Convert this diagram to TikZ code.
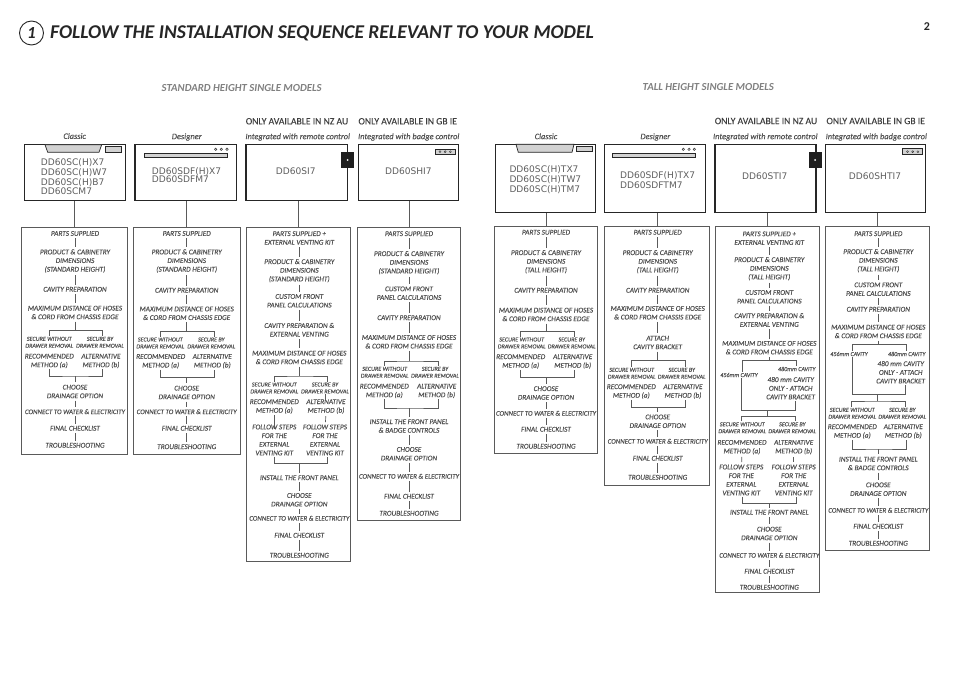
\documentclass[tikz,border=0pt]{standalone}
\usepackage{fontspec}
\usepackage{xcolor}
\setmainfont{Carlito}
\newfontfamily\modelfont{DejaVu Sans}
\newfontfamily\stepfont[UprightFont=*-Italic, FakeBold=0.25]{Carlito}
\newfontfamily\onlyfont[FakeBold=0.15]{Carlito}
\usetikzlibrary{calc}
\definecolor{textgray}{HTML}{525252}
\definecolor{linegray}{HTML}{5A5A5A}
\definecolor{headgray}{HTML}{808080}
\definecolor{modelgray}{HTML}{5E5E5E}
\definecolor{fillgray}{HTML}{D2D2D2}

\begin{document}
\begin{tikzpicture}[
  x=1bp, y=-1bp,
  stepnode/.style={font=\fontsize{7.3}{8.7}\selectfont\stepfont, text=textgray,
                   align=center, inner sep=1bp},
  widestep/.style={font=\fontsize{6.95}{8.7}\selectfont\stepfont, text=textgray,
                   align=center, inner sep=1bp},
  smallstep/.style={font=\fontsize{6.1}{7}\selectfont\stepfont, text=textgray,
                    align=center, inner sep=.8bp},
  link/.style={draw=linegray, line width=.7bp},
  stub/.style={link, shorten <=1.2bp, shorten >=1.2bp},
  panel/.style 2 args={draw=linegray, line width=.8bp, inner sep=0pt,
                       minimum width=#1bp, minimum height=#2bp},
  modelbox/.style 2 args={draw=black!85, line width=.9bp, inner sep=0pt,
                          minimum width=#1bp, minimum height=#2bp},
  modeltext/.style={font=\fontsize{9.1}{9.7}\selectfont\modelfont, text=modelgray,
                    align=left, inner sep=0pt},
  kindlabel/.style={font=\fontsize{8.4}{9}\selectfont\stepfont, text=textgray, inner sep=0pt},
  onlylabel/.style={font=\fontsize{9.7}{10}\selectfont\onlyfont, text=black!75, inner sep=0pt},
  grouplabel/.style={font=\fontsize{10.8}{12}\selectfont\bfseries\itshape, text=headgray, inner sep=0pt},
  heavyedge/.style={draw=black!85, line width=1.6bp},
  greypart/.style={draw=black!85, fill=fillgray, line width=.7bp},
  controlblock/.style={fill=black!88, inner sep=0pt, minimum width=13bp, minimum height=16bp},
  tofork/.style={shorten >=0pt},
  fromfork/.style={shorten <=0pt}
]
\useasboundingbox (0,0) rectangle (954,675);

% ---- HEADER ----
\node[draw=black!85, circle, line width=.9bp, minimum size=24bp, inner sep=0pt,
      font=\fontsize{17}{17}\selectfont\bfseries\itshape, text=black!85] (numring) at (31.5,33) {1};
\node[anchor=west, inner sep=0pt, font=\fontsize{19.6}{24}\selectfont\bfseries\itshape, text=black!85]
  (title) at (50,33) {FOLLOW THE INSTALLATION SEQUENCE RELEVANT TO YOUR MODEL};
\node[font=\fontsize{12}{12}\selectfont\bfseries, text=black!85, inner sep=0pt] (pageno) at (927,27) {2};

\node[grouplabel] (stdhead) at (241.7,88.3) {STANDARD HEIGHT SINGLE MODELS};
\node[grouplabel] (tallhead) at (708.3,87.3) {TALL HEIGHT SINGLE MODELS};

\node[onlylabel] (only3) at (297,121.3) {ONLY AVAILABLE IN NZ AU};
\node[onlylabel] (only4) at (407.7,121.3) {ONLY AVAILABLE IN GB IE};
\node[onlylabel] (only7) at (766,121) {ONLY AVAILABLE IN NZ AU};
\node[onlylabel] (only8) at (875.7,121) {ONLY AVAILABLE IN GB IE};

\node[kindlabel] (kind1) at (74.7,136) {Classic};
\node[kindlabel] (kind2) at (186.7,137) {Designer};
\node[kindlabel] (kind3) at (297.7,137) {Integrated with remote control};
\node[kindlabel] (kind4) at (408.7,137) {Integrated with badge control};
\node[kindlabel] (kind5) at (546,136.3) {Classic};
\node[kindlabel] (kind6) at (655.3,137) {Designer};
\node[kindlabel] (kind7) at (765.3,137) {Integrated with remote control};
\node[kindlabel] (kind8) at (876.3,137) {Integrated with badge control};

% ==== MODEL BOXES ====
\node[modelbox={100.7}{55.6}] (box1) at (74.65,172.5) {};
\node[modelbox={101}{55.6}] (box2) at (186.2,172.5) {};
\node[modelbox={101}{55.6}] (box3) at (297.2,172.5) {};
\node[modelbox={100.4}{55.6}] (box4) at (408.5,172.5) {};
\node[modelbox={100.4}{68.4}] (box5) at (545.5,178.5) {};
\node[modelbox={100.7}{68.4}] (box6) at (654.65,178.5) {};
\node[modelbox={100.7}{68.4}] (box7) at (765.35,178.5) {};
\node[modelbox={100.4}{68.4}] (box8) at (875.5,178.5) {};

\draw[heavyedge] (box2.south west) -- (box2.north west);
\draw[heavyedge] (box3.south west) -- (box3.north west);
\draw[heavyedge] (box7.south west) -- (box7.north west);
\draw[heavyedge] (box7.south east) -- (box7.north east);

% classic fascias
\draw[greypart] (45,144.7) -- (101.7,144.7) -- (99,152.3) -- (47.7,152.3) -- cycle;
\draw[greypart] (105.3,146.7) rectangle (121.7,152);
\draw[greypart] (516,144.3) -- (574,144.3) -- (572,152.3) -- (518.3,152.3) -- cycle;
\draw[greypart] (576.3,146.3) rectangle (592.7,151.7);

% designer bars and dots
\draw[greypart] (144.3,153.3) rectangle (227.7,157.7);
\draw[greypart] (612.3,153.3) rectangle (695.7,157.7);
\foreach \dotx in {215.7,221.3,227,683.3,689,694.3}
  \draw[draw=black!80, line width=.5bp] (\dotx,149.3) circle (1.2bp);

% remote control blocks
\node[controlblock] (remote3) at (347.5,160) {};
\node[controlblock] (remote7) at (815,160) {};
\fill[white] (remote3.center) circle (1bp);
\fill[white] (remote7.center) circle (1bp);

% badge controls
\draw[greypart] (435.3,149) rectangle (455,154.3);
\draw[greypart] (902.7,148.7) rectangle (922.7,154.7);
\foreach \dotx in {440,445.2,450.4}
  \draw[draw=black!80, line width=.4bp] (\dotx,151.7) circle (1bp);
\foreach \dotx in {907.5,912.7,917.9}
  \draw[draw=black!80, line width=.4bp] (\dotx,151.7) circle (1bp);

\node[modeltext, anchor=west] (name1) at (40.7,177) {DD60SC(H)X7\\DD60SC(H)W7\\DD60SC(H)B7\\DD60SCM7};
\node[modeltext, anchor=west] (name2) at (151.7,175) {DD60SDF(H)X7\\[-1bp]DD60SDFM7};
\node[modeltext] (name3) at (295.7,171.7) {DD60SI7};
\node[modeltext] (name4) at (408.3,171.7) {DD60SHI7};
\node[modeltext, anchor=west] (name5) at (509.3,179.5) {DD60SC(H)TX7\\DD60SC(H)TW7\\DD60SC(H)TM7};
\node[modeltext, anchor=west] (name6) at (620,180.3) {DD60SDF(H)TX7\\DD60SDFTM7};
\node[modeltext] (name7) at (764.7,176.7) {DD60STI7};
\node[modeltext] (name8) at (875,176.7) {DD60SHTI7};

% ==== PANELS ====
\node[panel={106.2}{227}] (panel1) at (74.6,340.5) {};
\node[panel={106.7}{227.3}] (panel2) at (186.65,340.65) {};
\node[panel={103.6}{333.7}] (panel3) at (298.5,394.15) {};
\node[panel={103.4}{292.7}] (panel4) at (409,373.65) {};
\node[panel={103.4}{227.3}] (panel5) at (546,339.65) {};
\node[panel={105.4}{259.7}] (panel6) at (657,355.85) {};
\node[panel={104}{366.7}] (panel7) at (767.7,409.35) {};
\node[panel={104.4}{324.3}] (panel8) at (877.5,388.15) {};

\foreach \n in {1,...,8}
  \draw[link] (panel\n.north |- box\n.south) -- (panel\n.north);

% ---- Column 1 ----
\node[stepnode] (parts1) at (75,233.5) {PARTS SUPPLIED};
\node[stepnode] (dims1) at (75,261) {PRODUCT \& CABINETRY\\DIMENSIONS\\(STANDARD HEIGHT)};
\node[stepnode] (cavity1) at (75,289.3) {CAVITY PREPARATION};
\node[stepnode] (hoses1) at (75,312.5) {MAXIMUM DISTANCE OF HOSES\\\& CORD FROM CHASSIS EDGE};
\node[smallstep] (secA1) at (49.3,342.3) {SECURE WITHOUT\\DRAWER REMOVAL};
\node[smallstep] (secB1) at (100,342.3) {SECURE BY\\DRAWER REMOVAL};
\node[stepnode] (recA1) at (49.3,361) {RECOMMENDED\\METHOD (a)};
\node[stepnode] (recB1) at (101,361) {ALTERNATIVE\\METHOD (b)};
\node[stepnode] (drain1) at (75,391.5) {CHOOSE\\DRAINAGE OPTION};
\node[widestep] (water1) at (75,411.7) {CONNECT TO WATER \& ELECTRICITY};
\node[stepnode] (check1) at (75,428.3) {FINAL CHECKLIST};
\node[stepnode] (trouble1) at (75,445.3) {TROUBLESHOOTING};
\coordinate (forkA1) at (75,330.3);
\coordinate (forkB1) at (75,376);
\draw[stub] (parts1) edge (dims1) (dims1) edge (cavity1) (cavity1) edge (hoses1) (hoses1) edge[tofork] (forkA1);
\draw[link] (secA1.north) |- (forkA1) -| ([xshift=2.7bp]secB1.north);
\draw[link] (recA1.south) |- (forkB1) -| ([xshift=1.7bp]recB1.south);
\draw[stub] (forkB1) edge[fromfork] (drain1) (drain1) edge (water1) (water1) edge (check1) (check1) edge (trouble1);

% ---- Column 2 ----
\node[stepnode] (parts2) at (186.7,233.5) {PARTS SUPPLIED};
\node[stepnode] (dims2) at (186.7,261) {PRODUCT \& CABINETRY\\DIMENSIONS\\(STANDARD HEIGHT)};
\node[stepnode] (cavity2) at (186.7,290.3) {CAVITY PREPARATION};
\node[stepnode] (hoses2) at (186.7,313.3) {MAXIMUM DISTANCE OF HOSES\\\& CORD FROM CHASSIS EDGE};
\node[smallstep] (secA2) at (160.3,343) {SECURE WITHOUT\\DRAWER REMOVAL};
\node[smallstep] (secB2) at (211.3,343) {SECURE BY\\DRAWER REMOVAL};
\node[stepnode] (recA2) at (160.7,361.3) {RECOMMENDED\\METHOD (a)};
\node[stepnode] (recB2) at (212.3,361.3) {ALTERNATIVE\\METHOD (b)};
\node[stepnode] (drain2) at (186.7,392.5) {CHOOSE\\DRAINAGE OPTION};
\node[widestep] (water2) at (186.7,411.7) {CONNECT TO WATER \& ELECTRICITY};
\node[stepnode] (check2) at (186.7,428.3) {FINAL CHECKLIST};
\node[stepnode] (trouble2) at (186.7,446.7) {TROUBLESHOOTING};
\coordinate (forkA2) at (186.7,331.3);
\coordinate (forkB2) at (186.7,377.3);
\draw[stub] (parts2) edge (dims2) (dims2) edge (cavity2) (cavity2) edge (hoses2) (hoses2) edge[tofork] (forkA2);
\draw[link] (secA2.north) |- (forkA2) -| ([xshift=3bp]secB2.north);
\draw[link] (recA2.south) |- (forkB2) -| ([xshift=2bp]recB2.south);
\draw[stub] (forkB2) edge[fromfork] (drain2) (drain2) edge (water2) (water2) edge (check2) (check2) edge (trouble2);

% ---- Column 3 ----
\node[stepnode] (parts3) at (299.3,238) {PARTS SUPPLIED +\\EXTERNAL VENTING KIT};
\node[stepnode] (dims3) at (299.3,270.7) {PRODUCT \& CABINETRY\\DIMENSIONS\\(STANDARD HEIGHT)};
\node[stepnode] (custom3) at (299.3,300.8) {CUSTOM FRONT\\PANEL CALCULATIONS};
\node[stepnode] (cavity3) at (299.3,329.8) {CAVITY PREPARATION \&\\EXTERNAL VENTING};
\node[stepnode] (hoses3) at (299.3,357.5) {MAXIMUM DISTANCE OF HOSES\\\& CORD FROM CHASSIS EDGE};
\node[smallstep] (secA3) at (274.3,388) {SECURE WITHOUT\\DRAWER REMOVAL};
\node[smallstep] (secB3) at (325,388) {SECURE BY\\DRAWER REMOVAL};
\node[stepnode] (recA3) at (274.3,406.5) {RECOMMENDED\\METHOD (a)};
\node[stepnode] (recB3) at (326,406.5) {ALTERNATIVE\\METHOD (b)};
\node[stepnode] (folA3) at (274.3,440) {FOLLOW STEPS\\FOR THE\\EXTERNAL\\VENTING KIT};
\node[stepnode] (folB3) at (325,440) {FOLLOW STEPS\\FOR THE\\EXTERNAL\\VENTING KIT};
\node[stepnode] (front3) at (299.3,477.7) {INSTALL THE FRONT PANEL};
\node[stepnode] (drain3) at (299.3,499.8) {CHOOSE\\DRAINAGE OPTION};
\node[widestep] (water3) at (299.3,518.3) {CONNECT TO WATER \& ELECTRICITY};
\node[stepnode] (check3) at (299.3,535.3) {FINAL CHECKLIST};
\node[stepnode] (trouble3) at (299.3,555.3) {TROUBLESHOOTING};
\coordinate (forkA3) at (299.3,376);
\coordinate (forkB3) at (299.3,463.7);
\draw[stub] (parts3) edge (dims3) (dims3) edge (custom3) (custom3) edge (cavity3) (cavity3) edge (hoses3) (hoses3) edge[tofork] (forkA3);
\draw[link] (secA3.north) |- (forkA3) -| ([xshift=2.7bp]secB3.north);
\draw[link] ([xshift=.7bp]secB3.south) -- ([xshift=.7bp,yshift=-3bp]secB3.south |- recB3.north);
\draw[link] (recA3.south) -- ([yshift=-6bp]recA3.south |- folA3.north);
\draw[stub] (recB3) -- (folB3);
\draw[link] (folA3.south) |- (forkB3) -| ([xshift=2.7bp]folB3.south);
\draw[stub] (forkB3) edge[fromfork] (front3) (front3) edge (drain3) (drain3) edge (water3) (water3) edge (check3) (check3) edge (trouble3);

% ---- Column 4 ----
\node[stepnode] (parts4) at (409,233.7) {PARTS SUPPLIED};
\node[stepnode] (dims4) at (409,262.7) {PRODUCT \& CABINETRY\\DIMENSIONS\\(STANDARD HEIGHT)};
\node[stepnode] (custom4) at (409,293.2) {CUSTOM FRONT\\PANEL CALCULATIONS};
\node[stepnode] (cavity4) at (409,317.7) {CAVITY PREPARATION};
\node[stepnode] (hoses4) at (409,341.8) {MAXIMUM DISTANCE OF HOSES\\\& CORD FROM CHASSIS EDGE};
\node[smallstep] (secA4) at (384.7,372.3) {SECURE WITHOUT\\DRAWER REMOVAL};
\node[smallstep] (secB4) at (435,372.3) {SECURE BY\\DRAWER REMOVAL};
\node[stepnode] (recA4) at (384.3,391) {RECOMMENDED\\METHOD (a)};
\node[stepnode] (recB4) at (436.7,391) {ALTERNATIVE\\METHOD (b)};
\node[stepnode] (front4) at (409,426) {INSTALL THE FRONT PANEL\\\& BADGE CONTROLS};
\node[stepnode] (drain4) at (409,453.8) {CHOOSE\\DRAINAGE OPTION};
\node[widestep] (water4) at (409,476.3) {CONNECT TO WATER \& ELECTRICITY};
\node[stepnode] (check4) at (409,496.3) {FINAL CHECKLIST};
\node[stepnode] (trouble4) at (409,513.3) {TROUBLESHOOTING};
\coordinate (forkA4) at (409,361);
\coordinate (forkB4) at (409,408);
\draw[stub] (parts4) edge (dims4) (dims4) edge (custom4) (custom4) edge (cavity4) (cavity4) edge (hoses4) (hoses4) edge[tofork] (forkA4);
\draw[link] (secA4.north) |- (forkA4) -| ([xshift=3.7bp]secB4.north);
\draw[link] (recA4.south) |- (forkB4) -| ([xshift=2bp]recB4.south);
\draw[stub] (forkB4) edge[fromfork] (front4) (front4) edge (drain4) (drain4) edge (water4) (water4) edge (check4) (check4) edge (trouble4);

% ---- Column 5 ----
\node[stepnode] (parts5) at (546,232.3) {PARTS SUPPLIED};
\node[stepnode] (dims5) at (546,261.7) {PRODUCT \& CABINETRY\\DIMENSIONS\\(TALL HEIGHT)};
\node[stepnode] (cavity5) at (546,290.3) {CAVITY PREPARATION};
\node[stepnode] (hoses5) at (546,314.5) {MAXIMUM DISTANCE OF HOSES\\\& CORD FROM CHASSIS EDGE};
\node[smallstep] (secA5) at (521.7,343) {SECURE WITHOUT\\DRAWER REMOVAL};
\node[smallstep] (secB5) at (571.7,343) {SECURE BY\\DRAWER REMOVAL};
\node[stepnode] (recA5) at (520.7,361.5) {RECOMMENDED\\METHOD (a)};
\node[stepnode] (recB5) at (572.7,361.5) {ALTERNATIVE\\METHOD (b)};
\node[stepnode] (drain5) at (546,393) {CHOOSE\\DRAINAGE OPTION};
\node[widestep] (water5) at (546,413.3) {CONNECT TO WATER \& ELECTRICITY};
\node[stepnode] (check5) at (546,429.3) {FINAL CHECKLIST};
\node[stepnode] (trouble5) at (546,446.3) {TROUBLESHOOTING};
\coordinate (forkA5) at (546,331.3);
\coordinate (forkB5) at (546,377.3);
\draw[stub] (parts5) edge (dims5) (dims5) edge (cavity5) (cavity5) edge (hoses5) (hoses5) edge[tofork] (forkA5);
\draw[link] ([xshift=-1.4bp]secA5.north) |- (forkA5) -| ([xshift=3bp]secB5.north);
\draw[link] (recA5.south) |- (forkB5) -| ([xshift=2bp]recB5.south);
\draw[stub] (forkB5) edge[fromfork] (drain5) (drain5) edge (water5) (water5) edge (check5) (check5) edge (trouble5);

% ---- Column 6 ----
\node[stepnode] (parts6) at (657.7,232.3) {PARTS SUPPLIED};
\node[stepnode] (dims6) at (657.7,261.7) {PRODUCT \& CABINETRY\\DIMENSIONS\\(TALL HEIGHT)};
\node[stepnode] (cavity6) at (657.7,290.3) {CAVITY PREPARATION};
\node[stepnode] (hoses6) at (657.7,312.8) {MAXIMUM DISTANCE OF HOSES\\\& CORD FROM CHASSIS EDGE};
\node[stepnode] (attach6) at (657.7,342.5) {ATTACH\\CAVITY BRACKET};
\node[smallstep] (secA6) at (631.7,373.3) {SECURE WITHOUT\\DRAWER REMOVAL};
\node[smallstep] (secB6) at (681.7,373.3) {SECURE BY\\DRAWER REMOVAL};
\node[stepnode] (recA6) at (631.3,391.5) {RECOMMENDED\\METHOD (a)};
\node[stepnode] (recB6) at (683,391.5) {ALTERNATIVE\\METHOD (b)};
\node[stepnode] (drain6) at (657.7,421.3) {CHOOSE\\DRAINAGE OPTION};
\node[widestep] (water6) at (657.7,441.3) {CONNECT TO WATER \& ELECTRICITY};
\node[stepnode] (check6) at (657.7,458.3) {FINAL CHECKLIST};
\node[stepnode] (trouble6) at (657.7,477.3) {TROUBLESHOOTING};
\coordinate (forkA6) at (657.7,360.7);
\coordinate (forkB6) at (657.7,407.3);
\draw[stub] (parts6) edge (dims6) (dims6) edge (cavity6) (cavity6) edge (hoses6) (hoses6) edge (attach6) (attach6) edge[tofork] (forkA6);
\draw[link] (secA6.north) |- (forkA6) -| ([xshift=3.7bp]secB6.north);
\draw[link] (recA6.south) |- (forkB6) -| ([xshift=2.3bp]recB6.south);
\draw[stub] (forkB6) edge[fromfork] (drain6) (drain6) edge (water6) (water6) edge (check6) (check6) edge (trouble6);

% ---- Column 7 ----
\node[stepnode] (parts7) at (769.3,238.2) {PARTS SUPPLIED +\\EXTERNAL VENTING KIT};
\node[stepnode] (dims7) at (769.3,268.7) {PRODUCT \& CABINETRY\\DIMENSIONS\\(TALL HEIGHT)};
\node[stepnode] (custom7) at (769.3,296.8) {CUSTOM FRONT\\PANEL CALCULATIONS};
\node[stepnode] (cavity7) at (769.3,320) {CAVITY PREPARATION \&\\EXTERNAL VENTING};
\node[stepnode] (hoses7) at (769.3,347.7) {MAXIMUM DISTANCE OF HOSES\\\& CORD FROM CHASSIS EDGE};
\node[smallstep] (cavA7) at (739,375) {456mm CAVITY};
\node[smallstep] (cavB7) at (796.7,369) {480mm CAVITY};
\node[stepnode] (attach7) at (790.7,388.2) {480 mm CAVITY\\ONLY - ATTACH\\CAVITY BRACKET};
\node[smallstep] (secA7) at (742.3,427.8) {SECURE WITHOUT\\DRAWER REMOVAL};
\node[smallstep] (secB7) at (792.3,427.8) {SECURE BY\\DRAWER REMOVAL};
\node[stepnode] (recA7) at (742,447.2) {RECOMMENDED\\METHOD (a)};
\node[stepnode] (recB7) at (793.7,447.2) {ALTERNATIVE\\METHOD (b)};
\node[stepnode] (folA7) at (741.3,480) {FOLLOW STEPS\\FOR THE\\EXTERNAL\\VENTING KIT};
\node[stepnode] (folB7) at (793.7,480) {FOLLOW STEPS\\FOR THE\\EXTERNAL\\VENTING KIT};
\node[stepnode] (front7) at (769.3,512.3) {INSTALL THE FRONT PANEL};
\node[stepnode] (drain7) at (769.3,533.5) {CHOOSE\\DRAINAGE OPTION};
\node[widestep] (water7) at (769.3,555.3) {CONNECT TO WATER \& ELECTRICITY};
\node[stepnode] (check7) at (769.3,571.3) {FINAL CHECKLIST};
\node[stepnode] (trouble7) at (769.3,587.3) {TROUBLESHOOTING};
\coordinate (forkA7) at (769.3,360.7);
\coordinate (joinC7) at (767.3,410.7);
\coordinate (joinD7) at (767.3,416.7);
\coordinate (forkB7) at (769.3,503.3);
\draw[stub] (parts7) edge (dims7) (dims7) edge (custom7) (custom7) edge (cavity7) (cavity7) edge (hoses7) (hoses7) edge[tofork] (forkA7);
\draw[link] ([xshift=3.3bp]cavA7.north) |- (forkA7) -| (cavB7.north);
\draw[link] ([xshift=2.7bp]cavA7.south) |- (joinC7) -| ([xshift=5bp]attach7.south);
\draw[link] (joinC7) -- (joinD7);
\draw[link] ([xshift=-.6bp]secA7.north) |- (joinD7) -| ([xshift=3.4bp]secB7.north);
\draw[stub] (recA7) -- (folA7);
\draw[stub] (recB7) -- (folB7);
\draw[link] ([xshift=1bp]folA7.south) |- (forkB7) -| ([xshift=3bp]folB7.south);
\draw[stub] (forkB7) edge[fromfork] (front7) (front7) edge (drain7) (drain7) edge (water7) (water7) edge (check7) (check7) edge (trouble7);

% ---- Column 8 ----
\node[stepnode] (parts8) at (878.3,233.7) {PARTS SUPPLIED};
\node[stepnode] (dims8) at (878.3,260.7) {PRODUCT \& CABINETRY\\DIMENSIONS\\(TALL HEIGHT)};
\node[stepnode] (custom8) at (878.3,289.2) {CUSTOM FRONT\\PANEL CALCULATIONS};
\node[stepnode] (cavity8) at (878.3,309.3) {CAVITY PREPARATION};
\node[stepnode] (hoses8) at (878.3,331.5) {MAXIMUM DISTANCE OF HOSES\\\& CORD FROM CHASSIS EDGE};
\node[smallstep] (cavA8) at (849,354) {456mm CAVITY};
\node[smallstep] (cavB8) at (906.7,354) {480mm CAVITY};
\node[stepnode] (attach8) at (900.7,372.3) {480 mm CAVITY\\ONLY - ATTACH\\CAVITY BRACKET};
\node[smallstep] (secA8) at (852.3,413.3) {SECURE WITHOUT\\DRAWER REMOVAL};
\node[smallstep] (secB8) at (902.3,413.3) {SECURE BY\\DRAWER REMOVAL};
\node[stepnode] (recA8) at (852.3,431.5) {RECOMMENDED\\METHOD (a)};
\node[stepnode] (recB8) at (903.3,431.5) {ALTERNATIVE\\METHOD (b)};
\node[stepnode] (front8) at (878.3,463.5) {INSTALL THE FRONT PANEL\\\& BADGE CONTROLS};
\node[stepnode] (drain8) at (878.3,489.2) {CHOOSE\\DRAINAGE OPTION};
\node[widestep] (water8) at (878.3,510.3) {CONNECT TO WATER \& ELECTRICITY};
\node[stepnode] (check8) at (878.3,526.3) {FINAL CHECKLIST};
\node[stepnode] (trouble8) at (878.3,543.3) {TROUBLESHOOTING};
\coordinate (forkA8) at (878.3,344.3);
\coordinate (joinC8) at (877.7,394.3);
\coordinate (joinD8) at (877.7,401);
\coordinate (forkB8) at (878.3,449);
\draw[stub] (parts8) edge (dims8) (dims8) edge (custom8) (custom8) edge (cavity8) (cavity8) edge (hoses8) (hoses8) edge[tofork] (forkA8);
\draw[link] ([xshift=3.3bp]cavA8.north) |- (forkA8) -| (cavB8.north);
\draw[link] ([xshift=3.3bp]cavA8.south) |- (joinC8) -| ([xshift=5bp]attach8.south);
\draw[link] (joinC8) -- (joinD8);
\draw[link] ([xshift=-1bp]secA8.north) |- (joinD8) -| ([xshift=3.4bp]secB8.north);
\draw[link] (recA8.south) |- (forkB8) -| ([xshift=3.4bp]recB8.south);
\draw[stub] (forkB8) edge[fromfork] (front8) (front8) edge (drain8) (drain8) edge (water8) (water8) edge (check8) (check8) edge (trouble8);

\end{tikzpicture}
\end{document}
